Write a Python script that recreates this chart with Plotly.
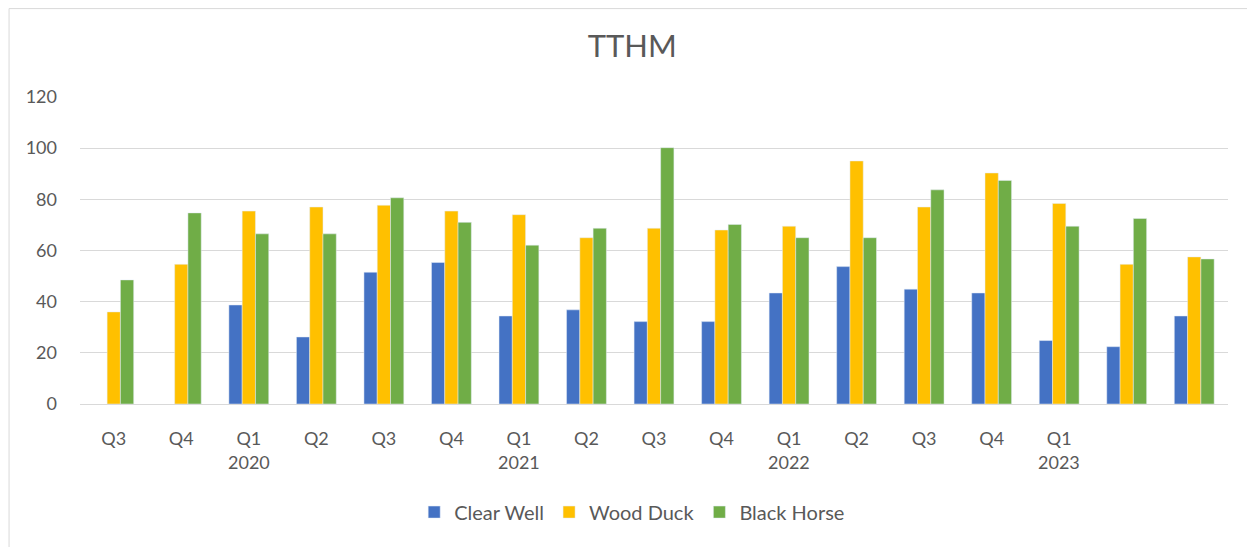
import plotly.graph_objects as go

quarters = ["Q3", "Q4", "Q1", "Q2", "Q3", "Q4", "Q1", "Q2", "Q3", "Q4",
            "Q1", "Q2", "Q3", "Q4", "Q1", "", ""]
years = ["", "", "2020", "", "", "", "2021", "", "", "", "2022", "", "", "", "2023", "", ""]

clear_well = [None, None, 38.7, 26.2, 51.5, 55.3, 34.4, 36.8, 32.2, 32.2,
              43.4, 53.7, 44.9, 43.4, 24.8, 22.4, 34.4]
wood_duck = [36.0, 54.6, 75.4, 77.0, 77.7, 75.4, 74.0, 65.0, 68.7, 68.0,
             69.5, 95.0, 77.0, 90.3, 78.4, 54.6, 57.5]
black_horse = [48.5, 74.7, 66.5, 66.5, 80.6, 71.0, 62.1, 68.7, 100.2, 70.2,
               65.0, 65.0, 83.7, 87.4, 69.5, 72.5, 56.7]

x = list(range(len(quarters)))
font = "Lato, Open Sans, sans-serif"
grey = "#595959"

fig = go.Figure()
fig.add_trace(go.Bar(x=x, y=clear_well, name="Clear Well", marker_color="#4472C4"))
fig.add_trace(go.Bar(x=x, y=wood_duck, name="Wood Duck", marker_color="#FFC000"))
fig.add_trace(go.Bar(x=x, y=black_horse, name="Black Horse", marker_color="#70AD47"))

# year labels sit under the first quarter of each year, like the Excel axis
for i, yr in enumerate(years):
    if yr:
        fig.add_annotation(x=i, y=-0.189, xref="x", yref="paper", text=yr, showarrow=False,
                           font=dict(size=18, color=grey, family=font), yanchor="middle")

# chart border
fig.add_shape(type="rect", xref="paper", yref="paper", x0=-0.0618, x1=1.0218, y0=-0.6, y1=1.288,
              line=dict(color="#d9d9d9", width=1))

# page body has an 8px margin, so the figure is 8px smaller on each axis
fig.update_layout(
    width=1247, height=539,
    margin=dict(l=72, r=27, t=89, b=143, autoexpand=False),
    paper_bgcolor="white", plot_bgcolor="white",
    title=dict(text="TTHM", x=0.481, xref="paper", y=1 - 38 / 539, yref="container",
               xanchor="center", yanchor="middle",
               font=dict(size=31, color=grey, family=font)),
    barmode="group", bargap=0.41, bargroupgap=0,
    font=dict(family=font, size=18, color=grey),
    showlegend=True,
    legend=dict(orientation="h", x=0.481, xanchor="center",
                y=-0.352, yanchor="middle", font=dict(size=20, color=grey),
                traceorder="normal"),
    xaxis=dict(tickmode="array", tickvals=x, ticktext=quarters, range=[-0.5, len(x) - 0.5],
               showgrid=False, zeroline=False, showline=False, ticks="", ticklabelstandoff=22,
               tickangle=0, tickfont=dict(size=18, color=grey)),
    yaxis=dict(range=[0, 120], dtick=20, gridcolor="#d9d9d9", gridwidth=1,
               zeroline=True, zerolinecolor="#d9d9d9", zerolinewidth=1,
               showline=False, ticks="", ticklabelstandoff=22,
               tickfont=dict(size=18, color=grey)),
)

fig.write_html("out.html")
